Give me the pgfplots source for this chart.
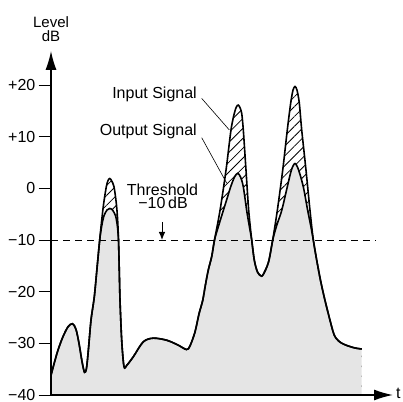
\documentclass[border=0pt]{standalone}
\usepackage{fontspec}
\setmainfont{Liberation Sans}
\usepackage{pgfplots}
\pgfplotsset{compat=1.18}
\usepackage{pgfplotstable}
\usetikzlibrary{arrows.meta,patterns.meta}

\pgfplotstableread{
x y
51 -36.2
54 -34.0
58 -31.3
63 -28.7
68 -26.8
72.5 -26.2
76 -27.3
79 -30.0
82 -33.5
84.5 -35.6
86.5 -34.8
88.5 -31.0
91 -25.5
94.3 -21.0
97 -15.5
99.7 -10.0
101.8 -6.0
103.7 -2.9
106.3 0.3
108 1.5
109.7 1.9
111.5 1.5
114 0.3
116.3 -2.9
117.6 -6.0
118.5 -10.0
119.3 -16.0
120 -21.6
121.7 -29.4
124 -34.5
127 -34.2
133.3 -32.6
143.3 -29.7
153.3 -29.0
166.7 -29.4
177.7 -30.3
186.5 -31.2
190 -30.5
195 -27.8
199 -24.3
202.7 -21.7
205.5 -18.6
208.3 -15.8
211.7 -13.2
214.5 -10.0
220 -4.3
226 3.5
231 11.3
234.3 14.5
236.5 15.8
238.3 16.1
240 15.6
241.7 14.5
243.3 11.3
246 3.5
248.7 -4.3
251.7 -10.0
254.3 -13.9
257.5 -16.2
261.7 -17.0
265.5 -15.8
269 -13.9
272.7 -10.0
277.3 -4.3
282.7 3.5
287.3 11.3
290.7 16.5
293 19.0
295 19.7
297 19.0
299.3 16.5
301.7 11.3
306 3.5
310 -4.3
313.3 -10.0
316.7 -13.9
320.5 -17.8
325 -21.7
332.7 -27.5
336 -29.0
341 -29.9
348 -30.5
355 -30.9
361.7 -31.1
}\inputdata

\pgfplotstableread{
x y
51 -36.2
54 -34.0
58 -31.3
63 -28.7
68 -26.8
72.5 -26.2
76 -27.3
79 -30.0
82 -33.5
84.5 -35.6
86.5 -34.8
88.5 -31.0
91 -25.5
94.3 -21.0
97 -15.5
99.7 -10.0
101.8 -7.2
104 -5.3
107 -4.2
109.7 -3.9
112.5 -4.2
115.5 -5.3
117.3 -7.2
118.5 -10.0
119.3 -16.0
120 -21.6
121.7 -29.4
124 -34.5
127 -34.2
133.3 -32.6
143.3 -29.7
153.3 -29.0
166.7 -29.4
177.7 -30.3
186.5 -31.2
190 -30.5
195 -27.8
199 -24.3
202.7 -21.7
205.5 -18.6
208.3 -15.8
211.7 -13.2
214.5 -10.0
219 -7.0
223.3 -4.3
227 -2.0
230.7 0.3
234.5 2.2
237.7 2.9
240.5 2.2
243.3 0.3
246.7 -4.3
249.2 -7.2
251.7 -10.0
254.3 -13.9
257.5 -16.2
261.7 -17.0
265.5 -15.8
269 -13.9
272.7 -10.0
277 -7.0
281.7 -4.3
287.3 0.3
291.5 3.6
295 4.8
298.5 3.6
303.3 0.3
307.7 -4.3
310.7 -7.2
313.3 -10.0
316.7 -13.9
320.5 -17.8
325 -21.7
332.7 -27.5
336 -29.0
341 -29.9
348 -30.5
355 -30.9
361.7 -31.1
}\outputdata

\begin{document}
\begin{tikzpicture}
\path[use as bounding box] (0,0) rectangle (403pt,401pt);
\begin{axis}[
  at={(51pt,6pt)}, anchor=south west,
  x=1pt, y=5.167pt,
  xmin=51, xmax=393, ymin=-40, ymax=26.6,
  axis lines=left,
  axis line style={line width=1.5pt},
  x axis line style={-{Latex[length=19pt,width=11pt]}},
  y axis line style={-{Latex[length=19pt,width=11pt]}},
  xtick=\empty,
  ytick={-40,-30,-20,-10,0,10,20},
  yticklabels={−40,−30,−20,−10,0,+10,+20},
  tick align=outside,
  major tick length=12.5pt,
  tick style={line width=0.8pt, black},
  yticklabel style={font=\fontsize{16}{18}\selectfont, inner sep=0pt, xshift=-3pt},
  axis on top,
  clip=false,
]
\addplot[draw=none, pattern={Lines[angle=45,distance=7pt,line width=0.8pt]}, smooth] table {\inputdata} -- (axis cs:361.7,-40) -- (axis cs:51,-40) -- cycle;
\addplot[draw=none, fill=gray!20, smooth] table {\outputdata} -- (axis cs:361.7,-40) -- (axis cs:51,-40) -- cycle;
\addplot[line width=0.8pt, dash pattern=on 7pt off 5pt] coordinates {(51,-10) (376,-10)};
\addplot[line width=1.6pt, smooth] table {\inputdata};
\addplot[line width=1.6pt, smooth] table {\outputdata};

\node[anchor=base, inner sep=0pt, font=\fontsize{15}{17}\selectfont] at (axis cs:51,31.2) {Level};
\node[anchor=base, inner sep=0pt, font=\fontsize{15}{17}\selectfont] at (axis cs:51,28.5) {dB};
\node[anchor=base east, inner sep=0pt, font=\fontsize{16}{18}\selectfont] at (axis cs:197,17.4) {Input Signal};
\node[anchor=base east, inner sep=0pt, font=\fontsize{16}{18}\selectfont] at (axis cs:197,10.3) {Output Signal};
\node[anchor=base, inner sep=0pt, font=\fontsize{16}{18}\selectfont] at (axis cs:162.5,-1.4) {Threshold};
\node[anchor=base, inner sep=0pt, font=\fontsize{16}{18}\selectfont] at (axis cs:163,-4.0) {−10\,dB};
\node[anchor=base west, inner sep=0pt, font=\fontsize{16}{18}\selectfont] at (axis cs:396,-40.6) {t};
\draw[line width=0.6pt] (axis cs:201.7,17.4) -- (axis cs:229.3,11.3);
\draw[line width=0.6pt] (axis cs:201.7,9.8) -- (axis cs:226.7,1.0);
\draw[line width=0.9pt, -{Latex[length=8pt,width=6.5pt]}] (axis cs:162,-6.5) -- (axis cs:162,-10);
\end{axis}
\end{tikzpicture}
\end{document}
